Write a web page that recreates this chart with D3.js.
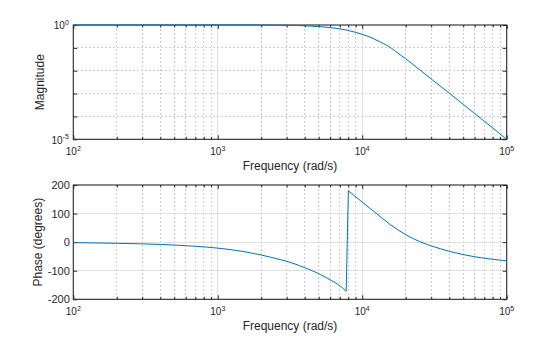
<!DOCTYPE html>
<html>
<head>
<meta charset="utf-8">
<script src="https://cdn.jsdelivr.net/npm/d3@7"></script>
<style>
  html, body { margin: 0; padding: 0; background: #fff; }
  svg { display: block; }
  text { font-family: "Liberation Sans", Arial, Helvetica, sans-serif; fill: #262626; }
</style>
</head>
<body>
<svg id="chart" width="560" height="337"></svg>
<script>
// ---- data ----
const magFreq = [100, 500, 1000, 2000, 3000, 3720, 5000, 7000, 8000, 10000, 12000, 13300, 15000, 18300, 20000, 25000, 30000, 40000, 50000, 60000, 70000, 80000, 90000, 100000];
const magValue = [1.0, 1.0, 0.999, 0.995, 0.975, 0.94, 0.85, 0.68, 0.575, 0.39, 0.251, 0.182, 0.123, 0.0501, 0.0331, 0.01096, 0.00437, 0.00105, 0.000339, 0.000135, 0.0000617, 0.0000316, 0.000017, 0.00001];

const phaseFreqA = [100, 200, 400, 700, 1000, 1430, 2000, 2700, 3000, 4030, 5130, 6000, 7030, 7740];
const phaseValueA = [-1.5, -4, -8, -14.5, -21, -31, -45, -61, -67, -90, -113, -132, -153, -172];
const phaseFreqB = [8020, 10000, 12000, 15600, 20000, 25000, 30000, 34700, 40000, 50000, 60000, 80000, 100000];
const phaseValueB = [180, 140, 108, 62, 26, 2, -13, -23, -32, -43.5, -51, -60, -65.5];

const freqTicks = [1e2, 1e3, 1e4, 1e5];
const freqExp = ["2", "3", "4", "5"];
const magTicks = [1e-5, 1];
const magExp = ["-5", "0"];
const phaseTicks = [-200, -100, 0, 100, 200];
const xLabel = "Frequency (rad/s)";
const magLabel = "Magnitude";
const phaseLabel = "Phase (degrees)";

// ---- layout ----
const L = 73.3, R = 506.7;
const top1 = 25, bot1 = 139.3, top2 = 185, bot2 = 299.3;
const lineColor = "#0072BD";
const axisColor = "#262626";
const majorGrid = "#dfdfdf";
const minorGrid = "#cdcdcd";

const svg = d3.select("#chart");
const x = d3.scaleLog().domain([1e2, 1e5]).range([L, R]);
const yMag = d3.scaleLog().domain([1e-5, 1]).range([bot1, top1]);
const yPh = d3.scaleLinear().domain([-200, 200]).range([bot2, top2]);

const minorFreq = [];
for (let d = 2; d < 5; d++) for (let k = 2; k <= 9; k++) minorFreq.push(k * Math.pow(10, d));
const minorMag = [1e-4, 1e-3, 1e-2, 1e-1];

function panel(top, bot, y, yMinor, yMajorGrid, yTickVals, yLabels, supY, ylab, labX) {
  const g = svg.append("g");
  g.selectAll(null).data(minorFreq).enter().append("line")
    .attr("x1", d => x(d)).attr("x2", d => x(d)).attr("y1", top).attr("y2", bot)
    .attr("stroke", minorGrid).attr("stroke-width", 1).attr("stroke-dasharray", "2,2")
    .attr("shape-rendering", "crispEdges");
  g.selectAll(null).data(yMinor).enter().append("line")
    .attr("x1", L).attr("x2", R).attr("y1", d => y(d)).attr("y2", d => y(d))
    .attr("stroke", minorGrid).attr("stroke-width", 1).attr("stroke-dasharray", "2,2")
    .attr("shape-rendering", "crispEdges");
  g.selectAll(null).data(freqTicks.slice(1, 3)).enter().append("line")
    .attr("x1", d => x(d)).attr("x2", d => x(d)).attr("y1", top).attr("y2", bot)
    .attr("stroke", majorGrid).attr("stroke-width", 1).attr("shape-rendering", "crispEdges");
  g.selectAll(null).data(yMajorGrid).enter().append("line")
    .attr("x1", L).attr("x2", R).attr("y1", d => y(d)).attr("y2", d => y(d))
    .attr("stroke", majorGrid).attr("stroke-width", 1).attr("shape-rendering", "crispEdges");

  const xb = d3.axisBottom(x).tickValues(freqTicks).tickSize(-4).tickFormat("");
  const xt = d3.axisTop(x).tickValues(freqTicks).tickSize(-4).tickFormat("");
  const xbm = d3.axisBottom(x).tickValues(minorFreq).tickSize(-2.5).tickFormat("");
  const xtm = d3.axisTop(x).tickValues(minorFreq).tickSize(-2.5).tickFormat("");
  [[xb, bot], [xt, top], [xbm, bot], [xtm, top]].forEach(([ax, ty]) => {
    const a = g.append("g").attr("transform", `translate(0,${ty})`).call(ax);
    a.select(".domain").remove();
    a.selectAll("line").attr("stroke", axisColor);
  });
  const yl = d3.axisLeft(y).tickValues(yTickVals.concat(yMinor)).tickSize(-4).tickFormat("");
  const yr = d3.axisRight(y).tickValues(yTickVals.concat(yMinor)).tickSize(-4).tickFormat("");
  [[yl, L], [yr, R]].forEach(([ax, tx]) => {
    const a = g.append("g").attr("transform", `translate(${tx},0)`).call(ax);
    a.select(".domain").remove();
    a.selectAll("line").attr("stroke", axisColor);
  });

  g.append("rect").attr("x", L).attr("y", top).attr("width", R - L).attr("height", bot - top)
    .attr("fill", "none").attr("stroke", axisColor).attr("stroke-width", 1.1);

  const xt2 = g.selectAll(null).data(freqTicks).enter().append("text")
    .attr("x", d => x(d)).attr("y", bot + 16).attr("text-anchor", "middle")
    .attr("font-size", "10px");
  xt2.append("tspan").text("10");
  xt2.append("tspan").attr("dy", -4.5).attr("font-size", "7px").text((d, i) => freqExp[i]);

  const yt2 = g.selectAll(null).data(yTickVals).enter().append("text")
    .attr("x", supY ? L - 4.5 : L - 3.5).attr("y", d => y(d) + (supY ? 4.3 : 4))
    .attr("text-anchor", "end").attr("font-size", supY ? "10px" : "11px");
  if (supY) {
    yt2.append("tspan").text("10");
    yt2.append("tspan").attr("dy", -4.5).attr("font-size", "7px").text((d, i) => yLabels[i]);
  } else {
    yt2.text(d => d);
  }

  g.append("text").attr("x", (L + R) / 2).attr("y", bot + 31).attr("text-anchor", "middle")
    .attr("font-size", "12px").text(xLabel);
  g.append("text").attr("transform", `translate(${labX},${(top + bot) / 2}) rotate(-90)`)
    .attr("text-anchor", "middle").attr("font-size", "12px").text(ylab);
  return g;
}

const g1 = panel(top1, bot1, yMag, minorMag, [], magTicks, magExp, true, magLabel, 43.5);
const g2 = panel(top2, bot2, yPh, [], [-100, 0, 100], phaseTicks, null, false, phaseLabel, 41.5);

const magPts = magFreq.map((f, i) => [x(f), yMag(magValue[i])]);
g1.append("path").datum(magPts)
  .attr("d", d3.line().curve(d3.curveMonotoneX))
  .attr("fill", "none").attr("stroke", lineColor).attr("stroke-width", 1);

const phA = phaseFreqA.map((f, i) => [x(f), yPh(phaseValueA[i])]);
const phB = phaseFreqB.map((f, i) => [x(f), yPh(phaseValueB[i])]);
const lm = d3.line().curve(d3.curveMonotoneX);
const pathD = lm(phA) + "L" + phB[0][0] + "," + phB[0][1] + lm(phB).replace(/^M[^CLS]*/, "");
g2.append("path").attr("d", pathD)
  .attr("fill", "none").attr("stroke", lineColor).attr("stroke-width", 1);
</script>
</body>
</html>
